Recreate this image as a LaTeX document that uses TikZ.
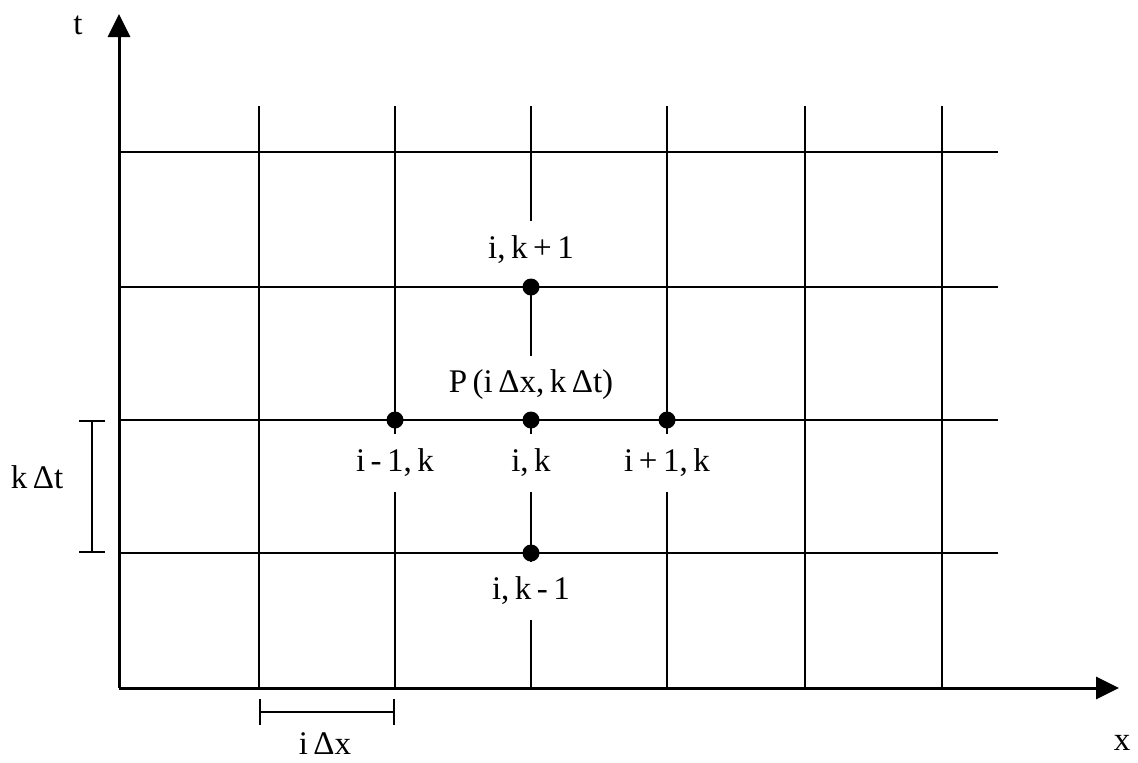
\documentclass[tikz,border=0pt]{standalone}
\usepackage{fontspec}
\setmainfont{Liberation Serif}
\usepackage{tikz}
\usetikzlibrary{arrows.meta}
\tikzset{
  gridline/.style={black, line width=1pt},
  axisline/.style={black, line width=1.5pt, -{Triangle[length=11.5pt,width=11pt]}},
  meshpt/.style={circle, fill=black, inner sep=0pt, minimum size=8.5pt},
  meshlbl/.style={fill=white, inner sep=0pt, minimum height=29pt, font=\fontsize{16.5}{18}\selectfont},
  axlbl/.style={font=\fontsize{16.5}{18}\selectfont},
  span/.style={black, line width=1pt, {Bar[width=13pt]}-{Bar[width=13pt]}}
}

\begin{document}
\begin{tikzpicture}[x=0.5pt,y=-0.5pt]
\useasboundingbox (0,0) rectangle (1138,762);
% axes
\coordinate (O) at (119,688);
\coordinate (ttop) at (119,14);
\coordinate (xend) at (1119,688);
% grid
\draw[gridline] (259,106) -- (259,688);
\draw[gridline] (395,106) -- (395,688);
\draw[gridline] (531,106) -- (531,688);
\draw[gridline] (667,106) -- (667,688);
\draw[gridline] (805,106) -- (805,688);
\draw[gridline] (942,106) -- (942,688);
\draw[gridline] (119,152) -- (998,152);
\draw[gridline] (119,287) -- (998,287);
\draw[gridline] (119,420) -- (998,420);
\draw[gridline] (119,553) -- (998,553);
\draw[axisline] (O) -- (ttop);
\draw[axisline] (O) -- (xend);
\node[axlbl] (tlbl) at (78,25) {t};
\node[axlbl] (xlbl) at (1122,743) {x};
% labels
\node[meshlbl] (up) at (531,250) {i,\,k\,+\,1};
\node[meshlbl] (plbl) at (531,385) {P\,(i\,Δx,\,k\,Δt)};
\node[meshlbl] (left) at (395,463) {i\,-\,1,\,k};
\node[meshlbl] (mid) at (531,463) {i,\,k};
\node[meshlbl] (right) at (667,463) {i\,+\,1,\,k};
\node[meshlbl] (down) at (531,591) {i,\,k\,-\,1};
% points
\node[meshpt] (pu) at (531,287) {};
\node[meshpt] (pl) at (395,420) {};
\node[meshpt] (pc) at (531,420) {};
\node[meshpt] (pr) at (667,420) {};
\node[meshpt] (pd) at (531,553) {};
% spans
\coordinate (dt1) at (92,420);
\coordinate (dt2) at (92,553);
\coordinate (dx1) at (259,712);
\coordinate (dx2) at (395,712);
\draw[span] (dt1) -- (dt2);
\draw[span] (dx1) -- (dx2);
\node[axlbl] (dtlbl) at (37,477) {k\,Δt};
\node[axlbl] (dxlbl) at (325,744) {i\,Δx};
\end{tikzpicture}
\end{document}
